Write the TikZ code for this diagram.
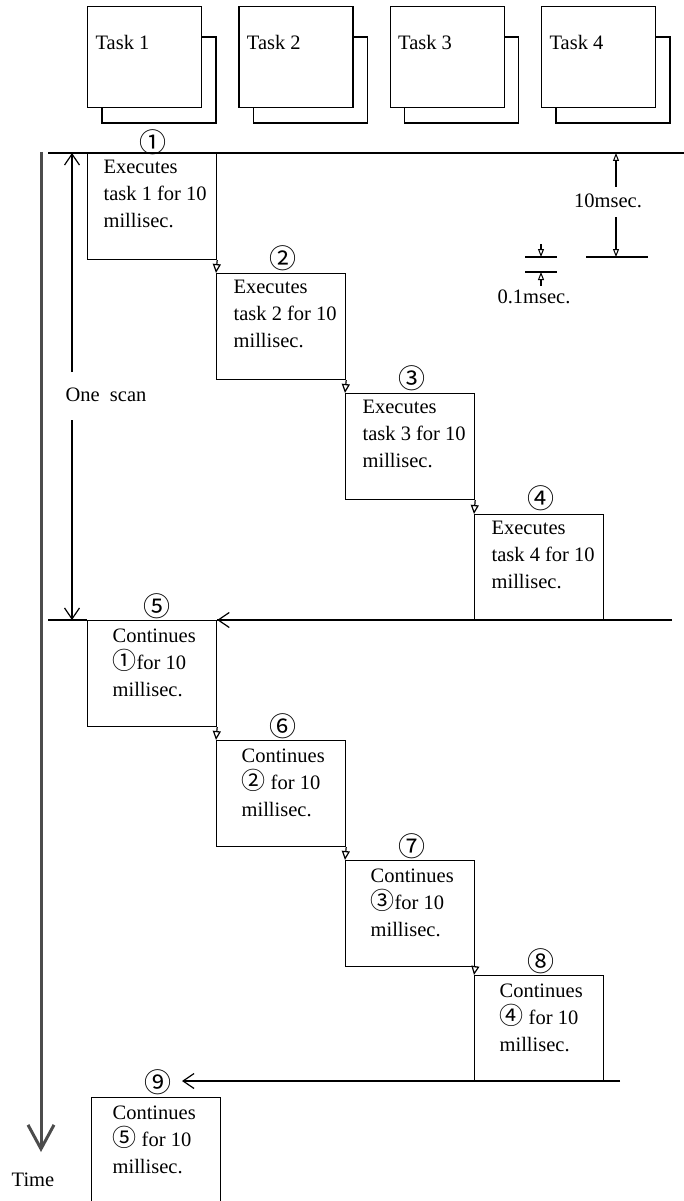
\documentclass[tikz,border=0pt]{standalone}
\usepackage{fontspec}
\setmainfont{Liberation Serif}
\newfontfamily\cj{Noto Sans CJK JP}
\newcommand{\cn}[1]{{\cj\fontsize{24}{27}\selectfont #1}}
\usetikzlibrary{arrows.meta,calc}
\begin{document}
\begin{tikzpicture}[x=1pt,y=-1pt, line width=1.2pt,
  txt/.style={font=\fontsize{20.5}{27}\selectfont, inner sep=0pt, align=left},
  taskbox/.style={draw, fill=white, minimum width=114pt, minimum height=101pt, anchor=north west, inner sep=0pt},
  stepbox/.style={draw, minimum width=129pt, minimum height=106pt, anchor=north west, inner sep=0pt},
  circ/.style={font=\cj\fontsize{27}{27}\selectfont, inner sep=0pt},
  steparrow/.style={-{Triangle[open,length=9pt,width=8pt,line width=1.2pt]}},
  barb/.style={-{Straight Barb[length=11pt,width=15pt,line width=1.2pt]}},
  dimarrow/.style={-{Triangle[open,length=8pt,width=6pt,line width=1pt]}},
  timearrow/.style={line width=3pt, draw=black!70, -{Straight Barb[length=24pt,width=26pt,line width=3pt]}}]
\useasboundingbox (0,0) rectangle (684,1201);

% task boxes
\foreach \i/\x in {1/87,2/238.3,3/389.6,4/541} {
  \draw ($(\x,6)+(114,31)$) -- ++(15,0) -- ++(0,86) -- ++(-114,0) -- ++(0,-16);
  \node[taskbox] (t\i) at (\x,6) {};
  \node[txt, anchor=base west] (tl\i) at ($(\x,6)+(8,44)$) {Task \i};
}

% horizontal lines
\coordinate (L1) at (48,153);
\coordinate (R1) at (684,153);
\draw (L1) -- (R1);

% step boxes
\node[stepbox] (s1) at (87,153) {};
\node[stepbox] (s2) at (216,273) {};
\node[stepbox] (s3) at (345,393) {};
\node[stepbox] (s4) at (474,514) {};
\node[stepbox] (s5) at (87,620) {};
\node[stepbox] (s6) at (216,740) {};
\node[stepbox] (s7) at (345,860) {};
\node[stepbox] (s8) at (474,975) {};
\node[stepbox, minimum height=120pt] (s9) at (91,1097) {};

\draw[steparrow] (s1.south east) -- (s2.north west);
\draw[steparrow] (s2.south east) -- (s3.north west);
\draw[steparrow] (s3.south east) -- (s4.north west);
\draw[steparrow] (s5.south east) -- (s6.north west);
\draw[steparrow] (s6.south east) -- (s7.north west);
\draw[steparrow] (s7.south east) -- (s8.north west);

% box texts
\node[txt, anchor=north west] (x1) at ($(s1.north west)+(16,6.5)$) {Executes\\task 1 for 10\\millisec.};
\node[txt, anchor=north west] (x2) at ($(s2.north west)+(17,6.5)$) {Executes\\task 2 for 10\\millisec.};
\node[txt, anchor=north west] (x3) at ($(s3.north west)+(17,6.5)$) {Executes\\task 3 for 10\\millisec.};
\node[txt, anchor=north west] (x4) at ($(s4.north west)+(17,6.5)$) {Executes\\task 4 for 10\\millisec.};
\node[txt, anchor=north west] (x5) at ($(s5.north west)+(25,8)$) {Continues\\\cn{①}for 10\\millisec.};
\node[txt, anchor=north west] (x6) at ($(s6.north west)+(25,8)$) {Continues\\\cn{②} for 10\\millisec.};
\node[txt, anchor=north west] (x7) at ($(s7.north west)+(25,8)$) {Continues\\\cn{③}for 10\\millisec.};
\node[txt, anchor=north west] (x8) at ($(s8.north west)+(25,8)$) {Continues\\\cn{④} for 10\\millisec.};
\node[txt, anchor=north west] (x9) at ($(s9.north west)+(21,8)$) {Continues\\\cn{⑤} for 10\\millisec.};

% circled step labels
\node[circ] (n1) at (153,142) {①};
\node[circ] (n2) at (283,258) {②};
\node[circ] (n3) at (412,378) {③};
\node[circ] (n4) at (541,498) {④};
\node[circ] (n5) at (157,606) {⑤};
\node[circ] (n6) at (283,726) {⑥};
\node[circ] (n7) at (412,846) {⑦};
\node[circ] (n8) at (541,961) {⑧};
\node[circ] (n9) at (158,1082) {⑨};

% second scan line
\coordinate (L2) at (48,620);
\coordinate (R2) at (672,620);
\draw (L2) -- (s5.north west);
\draw (s5.north east) -- (R2);
\draw[barb] (R2) -- (s5.north east);

% bottom return arrow
\coordinate (R3) at (620,1081);
\coordinate (A9) at (182,1081);
\draw[barb] (R3) -- (A9);

% one scan
\coordinate (os1) at (72,153);
\coordinate (os2) at (72,620);
\coordinate (osa) at (72,372);
\coordinate (osb) at (72,420);
\node[txt] (os) at (106,395) {One~~scan};
\draw[barb] (osa) -- (os1);
\draw[barb] (osb) -- (os2);

% time axis
\coordinate (ta) at (41,152);
\coordinate (tb) at (41,1152);
\draw[timearrow] (ta) -- (tb);
\node[txt] (time) at (33,1180) {Time};

% 10 msec dimension
\coordinate (m1) at (616,187);
\coordinate (m1t) at (616,153);
\coordinate (m2) at (616,217);
\coordinate (m2t) at (616,257);
\coordinate (d1) at (586,257);
\coordinate (d2) at (648,257);
\node[txt] (ten) at (608,201) {10msec.};
\draw[dimarrow] (m1) -- (m1t);
\draw[dimarrow] (m2) -- (m2t);
\draw (d1) -- (d2);

% 0.1 msec dimension
\coordinate (e1) at (525,257);
\coordinate (e2) at (557,257);
\coordinate (f1) at (525,272);
\coordinate (f2) at (557,272);
\coordinate (g1) at (541,244);
\coordinate (g1t) at (541,257);
\coordinate (g2) at (541,286);
\coordinate (g2t) at (541,272);
\draw (e1) -- (e2);
\draw (f1) -- (f2);
\draw[dimarrow] (g1) -- (g1t);
\draw[dimarrow] (g2) -- (g2t);
\node[txt] (tenth) at (534,297) {0.1msec.};
\end{tikzpicture}
\end{document}
